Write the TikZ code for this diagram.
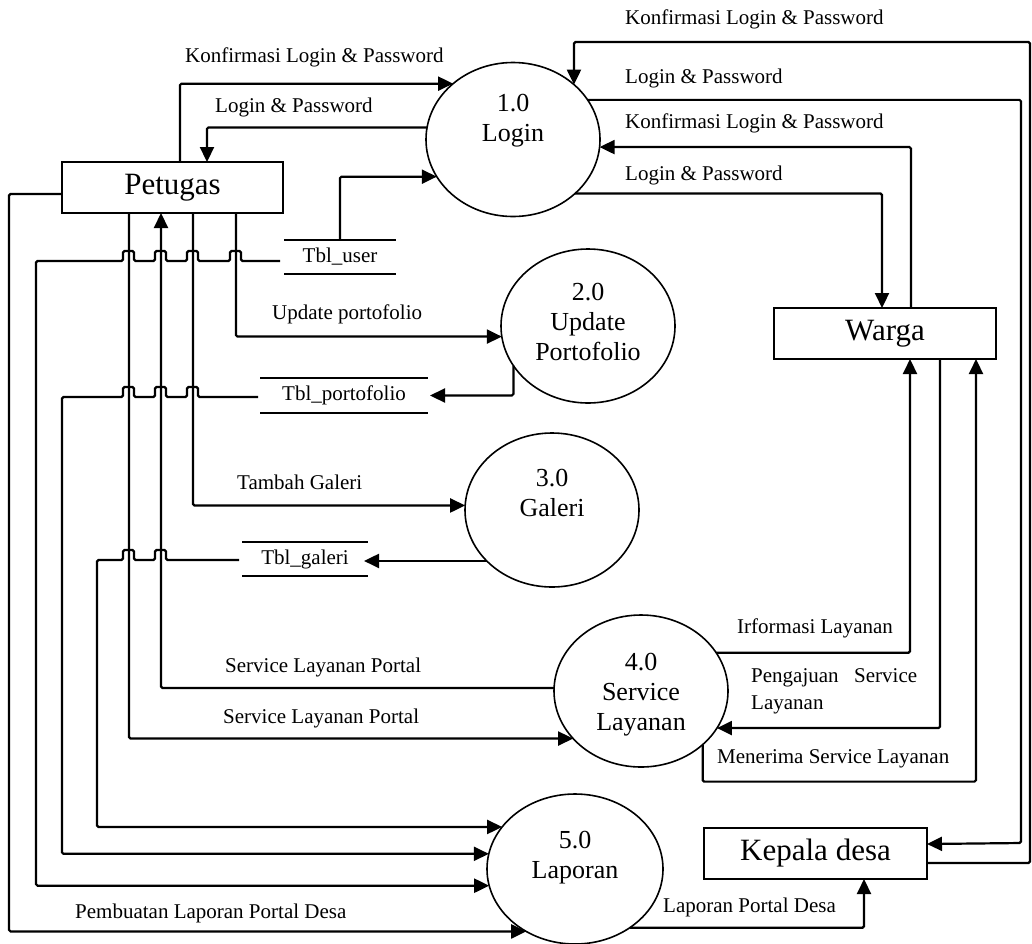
\documentclass[tikz,border=0pt]{standalone}
\usepackage{fontspec}
\setmainfont{Liberation Serif}
\usetikzlibrary{arrows.meta,shapes.geometric}
\newcommand{\hopover}[2]{-- ({#1+5},#2) -- ({#1+5},{#2-10}) -- ({#1-6},{#2-10}) -- ({#1-6},#2)}
\tikzset{
 proc/.style={ellipse, draw, line width=1.6pt, inner sep=0pt, outer sep=0pt, minimum width=174pt, minimum height=154pt},
 ptext/.style={align=center, inner sep=0pt, font=\fontsize{26}{30}\selectfont},
 ent/.style={rectangle, draw, line width=1.8pt, inner sep=0pt, outer sep=0pt, minimum height=51pt, font=\fontsize{31}{36}\selectfont},
 store/.style={rectangle, inner sep=0pt, outer sep=0pt, minimum height=34pt, font=\fontsize{21}{24}\selectfont},
 storeline/.style={line width=1.8pt},
 flow/.style={line width=2.2pt, rounded corners=1.5pt},
 arr/.style={-{Triangle[length=15pt,width=14pt]}},
 lbl/.style={anchor=west, inner sep=0pt, font=\fontsize{21}{24}\selectfont},
}
\begin{document}
\begin{tikzpicture}[x=1pt,y=-1pt]
\useasboundingbox[fill=white] (0,0) rectangle (1032,943);
% entities
\node[ent, minimum width=221pt] (pet) at (172.5,187.5) {Petugas};
\node[ent, minimum width=222pt] (warga) at (885,333.5) {Warga};
\node[ent, minimum width=223pt] (kd) at (815.5,853.5) {Kepala desa};
% processes
\node[proc] (p1) at (513,139.5) {};
\node[ptext] (p1t) at (513,121) {1.0\\Login};
\node[proc] (p2) at (588,326) {};
\node[ptext] (p2t) at (588,322) {2.0\\Update\\Portofolio};
\node[proc] (p3) at (552,510) {};
\node[ptext] (p3t) at (552,493) {3.0\\Galeri};
\node[proc, minimum height=152pt] (p4) at (641,691) {};
\node[ptext] (p4t) at (641,695) {4.0\\Service\\Layanan};
\node[proc, minimum width=176pt, minimum height=150pt] (p5) at (575,869) {};
\node[ptext] (p5t) at (575,858) {5.0\\Laporan};
% stores
\node[store, minimum width=112pt] (s1) at (340,257) {Tbl\_user};
\node[store, minimum width=168pt, minimum height=35pt] (s2) at (344,395.5) {Tbl\_portofolio};
\node[store, minimum width=126pt] (s3) at (305,559) {Tbl\_galeri};
\foreach \s in {s1,s2,s3} \draw[storeline] (\s.north west) -- (\s.north east) (\s.south west) -- (\s.south east);
% helper coordinates
\coordinate (rtop) at (1030,42);
\coordinate (rmid) at (1021,843);
% login flows
\draw[flow,arr] ([xshift=7.5pt]pet.north) |- (p1.137.4);
\draw[flow,arr] (p1.172.4) -| ([xshift=34.5pt]pet.north);
\draw[flow,arr] (s1.north) |- (p1.206.3);
\draw[flow,arr] ([yshift=-9.5pt]kd.east) -| (rtop) -| (p1.42.9);
\draw[flow,arr] (p1.28.7) -| (rmid) -- ([yshift=9.5pt]kd.east);
\draw[flow,arr] ([xshift=26pt]warga.north) |- (p1.355.05);
\draw[flow,arr] (p1.319.5) -| ([xshift=-3pt]warga.north);
% portofolio
\draw[flow,arr] ([xshift=63.5pt]pet.south) |- (p2.187.3);
\draw[flow,arr] (p2.208.7) |- ([xshift=2pt]s2.east);
% galeri
\draw[flow,arr] ([xshift=20.5pt]pet.south) |- (p3.177.4);
\draw[flow,arr,shorten >=-4pt] (p3.218) -- (p3.218 -| s3.east);
% service
\draw[flow,arr] (p4.178.7) -| ([xshift=-11.5pt]pet.south);
\draw[flow,arr] ([xshift=-43.5pt]pet.south) |- (p4.215.4);
\draw[flow,arr] (p4.27.6) -| ([xshift=25pt]warga.south);
\draw[flow,arr] ([xshift=55pt]warga.south) |- (p4.334);
\draw[flow,arr] (p4.319.3) -- ++(0,37) -| ([xshift=91pt]warga.south);
% laporan
\draw[flow,arr] (p5.313.9) -| ([xshift=48.5pt]kd.south);
\draw[flow,arr] ([xshift=-3pt,yshift=-1pt]s3.west) \hopover{161}{560} \hopover{129}{560} -- (97,560) |- (p5.150.9);
\draw[flow,arr] ([xshift=-2pt,yshift=-1.5pt]s2.west) \hopover{193}{397} \hopover{161}{397} \hopover{129}{397} -- (62,397) |- (p5.170.1);
\draw[flow,arr] ([xshift=-4pt,yshift=-4pt]s1.west) \hopover{236}{261} \hopover{193}{261} \hopover{161}{261} \hopover{129}{261} -- (36,261) |- (p5.191.2);
\draw[flow,arr] ([yshift=-6.5pt]pet.west) -- ++(-53,0) |- (p5.232.9);
% labels
\node[lbl] (l1) at (185,57) {Konfirmasi Login \& Password};
\node[lbl] (l2) at (215,107) {Login \& Password};
\node[lbl] (l3) at (625,19) {Konfirmasi Login \& Password};
\node[lbl] (l4) at (625,78) {Login \& Password};
\node[lbl] (l5) at (625,123) {Konfirmasi Login \& Password};
\node[lbl] (l6) at (625,175) {Login \& Password};
\node[lbl] (l7) at (272,314) {Update portofolio};
\node[lbl] (l8) at (237,482) {Tambah Galeri};
\node[lbl] (l9) at (225,667) {Service Layanan Portal};
\node[lbl] (l10) at (223,718) {Service Layanan Portal};
\node[lbl] (l11) at (737,628) {Irformasi Layanan};
\node[lbl, text width=166pt, align=left, font=\fontsize{21}{27}\selectfont] (l12) at (751,691.5) {Pengajuan\hfill Service\\Layanan};
\node[lbl] (l13) at (717,759) {Menerima Service Layanan};
\node[lbl] (l14) at (75,913) {Pembuatan Laporan Portal Desa};
\node[lbl] (l15) at (663,907) {Laporan Portal Desa};
\end{tikzpicture}
\end{document}
